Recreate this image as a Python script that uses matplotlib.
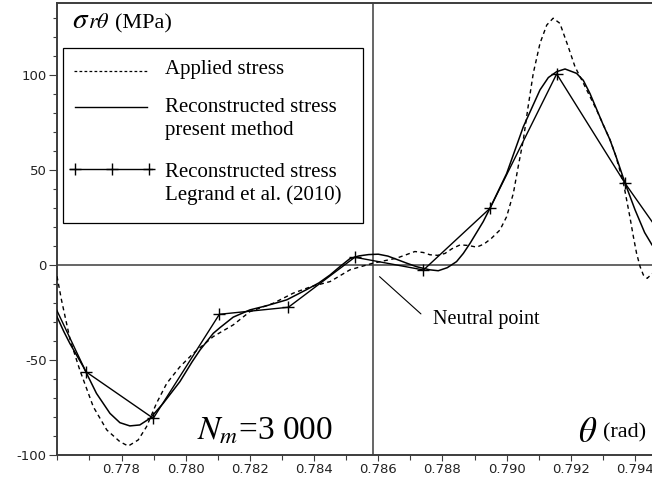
import matplotlib
matplotlib.use('Agg')
import matplotlib.pyplot as plt
import matplotlib.ticker as ticker
from matplotlib.lines import Line2D
from matplotlib.patches import Rectangle

# applied stress (dashed curve)
applied_theta = [0.77599, 0.77613, 0.77640, 0.77670, 0.77712, 0.77754, 0.77795, 0.77821, 0.77852,
                 0.77878, 0.77909, 0.77941, 0.77982, 0.78024, 0.78086, 0.78148, 0.78200, 0.78273,
                 0.78335, 0.78390, 0.78450, 0.78512, 0.78584, 0.78657, 0.78690, 0.78714, 0.78740,
                 0.78761, 0.78785, 0.78808, 0.78830, 0.78855, 0.78880, 0.78907, 0.78930, 0.78953,
                 0.78979, 0.79000, 0.79021, 0.79036, 0.79052, 0.79067, 0.79083, 0.79104, 0.79125,
                 0.79145, 0.79166, 0.79192, 0.79213, 0.79239, 0.79280, 0.79322, 0.79338, 0.79364,
                 0.79384, 0.79395, 0.79405, 0.79416, 0.79426, 0.79438, 0.79449, 0.79453]
applied_stress = [-6, -18.5, -39.5, -55.3, -74.6, -86.8, -93, -95.3, -92.1,
                  -85.1, -72.8, -62.3, -53.6, -46.5, -37.7, -31.6, -24.6, -20.2,
                  -14.9, -11.5, -8.8, -2.6, 0.9, 3.5, 5.5, 7.0, 6.5,
                  5.3, 5.0, 6.0, 8.5, 10.5, 10.2, 9.3, 11.0, 14.0,
                  18.3, 25.3, 37.6, 51.6, 65.7, 83.2, 100.7, 116.5, 126.1,
                  129.7, 127, 114.7, 104.2, 95.6, 81.6, 65.8, 58.5, 43,
                  25.3, 14.8, 6, -1, -5.3, -7.1, -5.3, -4.5]

# reconstructed stress, present method (smooth solid curve)
present_theta = [0.77599, 0.77620, 0.77639, 0.77681, 0.77722, 0.77764, 0.77795, 0.77826, 0.77857,
                 0.77889, 0.77930, 0.77982, 0.78020, 0.78045, 0.78086, 0.78107, 0.78148, 0.78200,
                 0.78252, 0.78315, 0.78377, 0.78415, 0.78450, 0.78480, 0.78512, 0.78540, 0.78570,
                 0.78600, 0.78630, 0.78657, 0.78690, 0.78720, 0.78760, 0.78787, 0.78815, 0.78844,
                 0.78865, 0.78886, 0.78927, 0.78948, 0.79000, 0.79052, 0.79104, 0.79130, 0.79156,
                 0.79182, 0.79218, 0.79239, 0.79260, 0.79280, 0.79300, 0.79322, 0.79345, 0.79369,
                 0.79400, 0.79430, 0.79453]
present_stress = [-27.3, -35, -41.3, -53.6, -67.6, -78.1, -83, -84.7, -84.2,
                  -80.7, -72.8, -61.4, -51, -44.7, -36, -33, -27.5, -23.7,
                  -21.5, -18.4, -13, -9.5, -5.3, -1, 3.3, 4.7, 5.4,
                  5.6, 4.6, 2.9, 0.8, -1, -2.6, -3.1, -1.5, 1.7,
                  6, 11.3, 22.7, 29.7, 48, 72.6, 92, 98.5, 101.6,
                  103, 100.7, 97, 90, 82, 74, 65.8, 55, 43,
                  29, 17, 10.5]

# reconstructed stress, Legrand et al. (2010)
legrand_theta = [0.7748, 0.77689, 0.77899, 0.78105, 0.7832, 0.78527, 0.78741, 0.78948, 0.79156,
                 0.79369, 0.7958]
legrand_stress = [18.3, -56.2, -80.7, -26.0, -22.3, 4.0, -2.7, 29.7, 100.4, 42.9, -7.7]

x_ticks = [0.778, 0.780, 0.782, 0.784, 0.786, 0.788, 0.790, 0.792, 0.794]
y_ticks = [-100, -50, 0, 50, 100]
neutral_theta = 0.78583

SERIF = 'Liberation Serif'
AXIS_COLOR = '#3c3c3c'


def draw_legend(ax):
    tr = ax.transAxes
    ax.add_patch(Rectangle((0.0106, 0.5139), 0.5037, 0.3859, transform=tr, fill=False,
                           edgecolor='black', linewidth=0.9, zorder=5))
    ax.add_line(Line2D([0.0286, 0.1513], [0.8496, 0.8496], transform=tr, color='black',
                       linewidth=0.9, linestyle=(0, (2.2, 1.8)), zorder=5))
    ax.add_line(Line2D([0.0303, 0.1513], [0.7692, 0.7692], transform=tr, color='black',
                       linewidth=1.0, zorder=5))
    ax.add_line(Line2D([0.0218, 0.1597], [0.6327, 0.6327], transform=tr, color='black',
                       linewidth=1.0, zorder=5))
    ax.add_line(Line2D([0.0303, 0.0919, 0.1551], [0.6327] * 3, transform=tr, color='black',
                       linestyle='none', marker='+', markersize=8, markeredgewidth=1.0, zorder=5))
    labels = [("Applied stress", 0.8429),
              ("Reconstructed stress", 0.7595),
              ("present method", 0.7080),
              ("Reconstructed stress", 0.6157),
              ("Legrand et al. (2010)", 0.5642)]
    for text, y in labels:
        ax.text(0.1815, y, text, transform=tr, family=SERIF, fontsize=15,
                va='baseline', ha='left', zorder=6)


def generate_graph():
    plt.rcParams['mathtext.fontset'] = 'stix'
    fig = plt.figure(figsize=(6.52, 4.88), dpi=100)
    ax = fig.add_axes([57 / 652, 33 / 488, 595 / 652, 452 / 488])

    ax.axhline(0, color=AXIS_COLOR, linewidth=1.1, zorder=1)
    ax.axvline(neutral_theta, color=AXIS_COLOR, linewidth=1.1, zorder=1)

    ax.plot(applied_theta, applied_stress, color='black', linewidth=1.0,
            linestyle=(0, (3, 2.5)), zorder=3)
    ax.plot(present_theta, present_stress, color='black', linewidth=1.1, zorder=3)
    ax.plot(legrand_theta, legrand_stress, color='black', linewidth=1.0, marker='+',
            markersize=8, markeredgewidth=1.0, zorder=3)

    ax.set_xlim(0.77599, 0.79453)
    ax.set_ylim(-100, 137.7)
    ax.set_xticks(x_ticks)
    ax.set_yticks(y_ticks)
    ax.xaxis.set_minor_locator(ticker.MultipleLocator(0.001))
    ax.yaxis.set_minor_locator(ticker.MultipleLocator(10))
    ax.xaxis.set_major_formatter(ticker.FuncFormatter(lambda v, _: '{:.3f}'.format(v)))
    ax.yaxis.set_major_formatter(ticker.FuncFormatter(lambda v, _: '{:g}'.format(v)))

    for side in ['top', 'left', 'bottom']:
        ax.spines[side].set_color(AXIS_COLOR)
        ax.spines[side].set_linewidth(1.4)
    ax.spines['right'].set_visible(False)

    ax.tick_params(axis='both', which='both', direction='out', color=AXIS_COLOR,
                   labelcolor='#222222', labelsize=9.5, width=0.8)
    ax.tick_params(axis='x', which='major', length=4, pad=1.5)
    ax.tick_params(axis='x', which='minor', length=3.5)
    ax.tick_params(axis='y', which='major', length=5.5, pad=2)
    ax.tick_params(axis='y', which='minor', length=3)

    tr = ax.transAxes
    ax.text(0.0252, 0.9440, r'$\sigma$', transform=tr, fontsize=21, va='baseline')
    ax.text(0.0520, 0.9440, r'$r\theta$', transform=tr, fontsize=16, va='baseline')
    ax.text(0.0975, 0.9440, '(MPa)', transform=tr, family=SERIF, fontsize=16, va='baseline')
    ax.text(0.2353, 0.0332, r'$N_m$=3 000', transform=tr, family=SERIF, fontsize=24,
            va='baseline')
    ax.text(0.8756, 0.0288, r'$\theta$', transform=tr, fontsize=25, va='baseline')
    ax.text(0.9176, 0.0398, '(rad)', transform=tr, family=SERIF, fontsize=16, va='baseline')

    ax.annotate('', xy=(0.78604, -6.2), xytext=(0.78733, -25.8),
                arrowprops=dict(arrowstyle='-', color='black', lw=0.8, shrinkA=0, shrinkB=0))
    ax.text(0.6319, 0.2898, 'Neutral point', transform=tr, family=SERIF, fontsize=14.5,
            va='baseline')

    draw_legend(ax)
    fig.savefig('out.png', dpi=100)


if __name__ == "__main__":
    generate_graph()
